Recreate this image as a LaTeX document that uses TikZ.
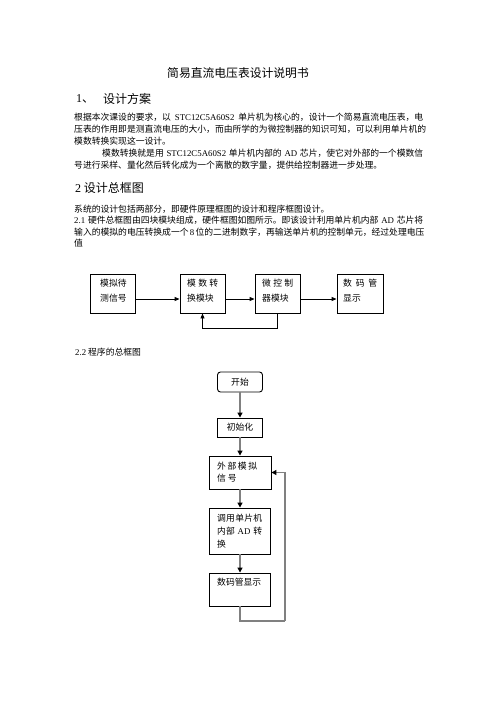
\documentclass[tikz,border=0pt]{standalone}
\usepackage{fontspec}
\setmainfont{Noto Sans CJK SC}
\newfontfamily\lat{Liberation Serif}
\usetikzlibrary{arrows.meta}
\XeTeXlinebreaklocale "zh"
\XeTeXlinebreakskip=0pt plus 1.5pt
\newcommand{\jl}[1]{\hbox to 349pt{#1}}
\newcommand{\spr}[2]{\hbox to #1{#2}}
\tikzset{
  txt/.style={inner sep=0pt, anchor=west, font=\fontsize{8.8pt}{12pt}\selectfont},
  head/.style={inner sep=0pt, anchor=west, font=\fontsize{12pt}{14pt}\selectfont},
  hbox/.style={draw=black, line width=0.9pt, inner sep=0pt, minimum width=45pt, minimum height=39pt},
  harrow/.style={line width=0.9pt, -{Triangle[length=5pt,width=4pt]}},
  fbox/.style={draw=black, line width=0.9pt, inner sep=0pt},
  farrow/.style={draw=black!50, line width=1.6pt, -{Triangle[length=5pt,width=5pt,color=black]}},
  fline/.style={draw=black!50, line width=1.6pt}
}
\begin{document}
\begin{tikzpicture}[x=1pt, y=-1pt]
\useasboundingbox (0,0) rectangle (496,702);
\fill[white] (0,0) rectangle (496,702);
% title and text
\node[inner sep=0pt, font=\fontsize{11.8pt}{14pt}\selectfont] (title) at (238,73) {简易直流电压表设计说明书};
\node[head] (h1n) at (76,99) {{\lat 1}、};
\node[head] (h1t) at (103,99) {设计方案};
\node[txt] (l1) at (74,117.5) {\jl{根据本次课设的要求，以 {\lat STC12C5A60S2} 单片机为核心的，设计一个简易直流电压表，电}};
\node[txt] (l2) at (74,129.5) {\jl{压表的作用即是测直流电压的大小，而由所学的为微控制器的知识可知，可以利用单片机的}};
\node[txt] (l3) at (74,141.5) {模数转换实现这一设计。};
\node[txt] (l4) at (102,153.5) {\hbox to 321pt{模数转换就是用 {\lat STC12C5A60S2} 单片机内部的 {\lat AD} 芯片，使它对外部的一个模数信}};
\node[txt] (l5) at (74,165.5) {号进行采样、量化然后转化成为一个离散的数字量，提供给控制器进一步处理。};
\node[head] (h2) at (75,188) {{\lat 2} 设计总框图};
\node[txt] (l6) at (74,209) {系统的设计包括两部分，即硬件原理框图的设计和程序框图设计。};
\node[txt] (l7) at (74,220.5) {\jl{{\lat 2.1} 硬件总框图由四块模块组成，硬件框图如图所示。即该设计利用单片机内部 {\lat AD} 芯片将}};
\node[txt] (l8) at (74,232) {\jl{输入的模拟的电压转换成一个 {\lat 8} 位的二进制数字，再输送单片机的控制单元，经过处理电压}};
\node[txt] (l9) at (74,243.5) {值};
% hardware block diagram
\node[hbox] (b1) at (112.5,293.5) {};
\node[hbox] (b2) at (202.5,293.5) {};
\node[hbox] (b3) at (277.5,293.5) {};
\node[hbox, minimum width=46pt] (b4) at (360,293.5) {};
\node[txt] (b1a) at (100,283) {模拟待};
\node[txt] (b1b) at (100,298) {测信号};
\node[txt] (b2a) at (187,283) {\spr{31pt}{模\hfil 数\hfil 转}};
\node[txt] (b2b) at (187,298) {换模块};
\node[txt] (b3a) at (262,283) {\spr{31pt}{微\hfil 控\hfil 制}};
\node[txt] (b3b) at (262,298) {器模块};
\node[txt] (b4a) at (343,283) {\spr{34pt}{数\hfil 码\hfil 管}};
\node[txt] (b4b) at (343,298) {显示};
\draw[harrow] ([yshift=-5.5pt]b1.east) -- ([yshift=-5.5pt]b2.west);
\draw[harrow] ([yshift=-5.5pt]b2.east) -- ([yshift=-5.5pt]b3.west);
\draw[harrow] ([yshift=-5.5pt]b3.east) -- ([yshift=-5.5pt]b4.west);
\draw[harrow] (b3.south) -- ++(0,15) -| (b2.south);
% program flowchart
\node[txt] (l10) at (75,352) {{\lat 2.2} 程序的总框图};
\node[fbox, rounded corners=3pt, minimum width=45pt, minimum height=20pt, font=\fontsize{8.8pt}{12pt}\selectfont] (s) at (240,382) {开始};
\node[fbox, minimum width=45pt, minimum height=19pt, font=\fontsize{8.8pt}{12pt}\selectfont] (i) at (240,427.5) {初始化};
\node[fbox, minimum width=62pt, minimum height=33pt] (e) at (240,472.5) {};
\node[fbox, minimum width=61pt, minimum height=46pt] (c) at (240,531) {};
\node[fbox, minimum width=61pt, minimum height=33pt] (d) at (240,589.5) {};
\node[txt] (e1) at (217,466) {\spr{40pt}{外\hfil 部\hfil 模\hfil 拟}};
\node[txt] (e2) at (217,478) {信\hspace{2pt}号};
\node[txt] (c1) at (217,518) {\spr{45pt}{调\hfil 用\hfil 单\hfil 片\hfil 机}};
\node[txt] (c2) at (217,531) {\spr{45pt}{内部\hfil {\lat AD}\hfil 转}};
\node[txt] (c3) at (217,544) {换};
\node[txt] (d1) at (217,582) {数码管显示};
\draw[farrow] (s) -- (i);
\draw[farrow] (i) -- (e);
\draw[farrow] (e) -- (c);
\draw[farrow] (c) -- (d);
\coordinate (lp) at (285,621);
\draw[fline] (d.south) |- (lp);
\draw[farrow] (lp) |- (e.east);
\end{tikzpicture}
\end{document}
